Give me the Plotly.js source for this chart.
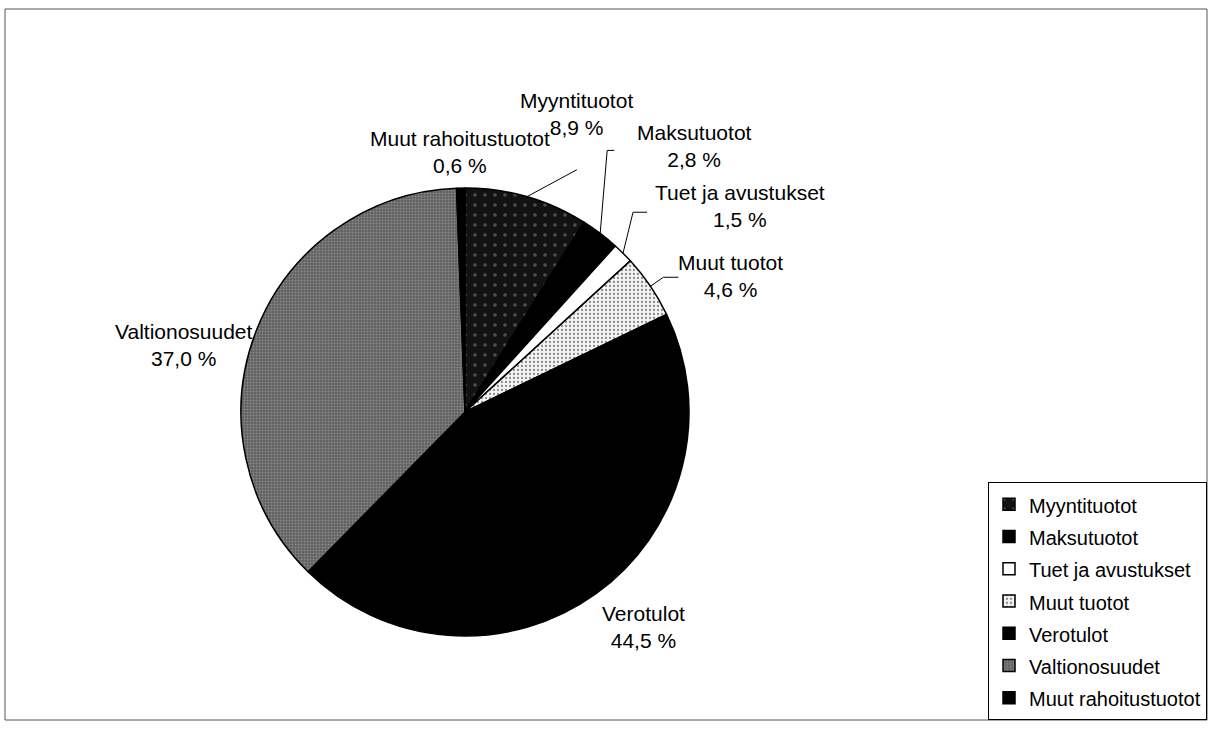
<!DOCTYPE html>
<html>
<head>
<meta charset="utf-8">
<script src="https://cdn.plot.ly/plotly-3.0.1.min.js"></script>
<style>
  html, body { margin: 0; padding: 0; background: #fff; }
  #chart { width: 1211px; height: 743px; }
</style>
</head>
<body>
<div id="chart"></div>
<script>
// ---- data ----
const categories = ['Myyntituotot', 'Maksutuotot', 'Tuet ja avustukset', 'Muut tuotot', 'Verotulot', 'Valtionosuudet', 'Muut rahoitustuotot'];
const shares = [8.9, 2.8, 1.5, 4.6, 44.5, 37.0, 0.6];

// ---- styles ----
const sliceColors = ['#121212', '#000000', '#ffffff', '#f4f4f4', '#000000', '#606060', '#000000'];
const patShape    = ['.', '', '', '.', '', '.', ''];
const patFg       = ['#8c8c8c', '#000', '#000', '#222', '#000', '#b4b4b4', '#000'];
const patSize     = [10, 8, 8, 4, 8, 3, 8];
const patSolid    = [0.1, 0.3, 0.3, 0.25, 0.3, 0.35, 0.3];

// ---- layout geometry (pixels) ----
const W = 1211, H = 743;
const CX = 465, CY = 412, R = 224;
// label centres
const labelPos = [[576, 114], [694, 146], [740, 206], [730, 276], [643, 627], [184, 345], [460, 152]];
// leader line bends, relative to slice edge point
const leaders = [[[50, -27]], [[7, -83], [14, -83]], [[10, -41], [24, -41]], [[13, -9], [28, -9]], null, null, null];

const px = x => x / W;
const py = y => 1 - y / H;
const fmt = v => v.toFixed(1).replace('.', ',') + ' %';
const FONT = 'Liberation Sans, Arial, sans-serif';

const total = shares.reduce((a, b) => a + b, 0);
let cum = 0;
const annotations = [];
const shapes = [];
shares.forEach((v, i) => {
  const mid = (cum + v / 2) / total;
  cum += v;
  const th = 2 * Math.PI * mid;
  const ex = CX + R * Math.sin(th);
  const ey = CY - R * Math.cos(th);
  annotations.push({
    xref: 'paper', yref: 'paper',
    x: px(labelPos[i][0]), y: py(labelPos[i][1]),
    xanchor: 'center', yanchor: 'middle',
    text: categories[i] + '<br>' + fmt(v),
    showarrow: false,
    font: { family: FONT, size: 21, color: '#000' }
  });
  if (leaders[i]) {
    let d = 'M' + ex + ',' + ey;
    leaders[i].forEach(p => { d += ' L' + (ex + p[0]) + ',' + (ey + p[1]); });
    shapes.push({
      type: 'path', xref: 'paper', yref: 'paper', layer: 'above',
      path: d.replace(/(-?[\d.]+),(-?[\d.]+)/g, (m, a, b) => px(+a) + ',' + py(+b)),
      line: { color: '#000', width: 1 }
    });
  }
});

// outer frame
shapes.push({
  type: 'rect', xref: 'paper', yref: 'paper', layer: 'below',
  x0: px(5), x1: px(1207), y0: py(720), y1: py(9),
  line: { color: '#555', width: 1 }
});

const legendLabels = categories.map(c => '<span style="font-size:20px">' + c + '</span>');

const trace = {
  type: 'pie',
  labels: legendLabels,
  values: shares,
  sort: false,
  direction: 'clockwise',
  rotation: 0,
  textinfo: 'none',
  hoverinfo: 'skip',
  domain: { x: [px(CX - R), px(CX + R)], y: [py(CY + R), py(CY - R)] },
  marker: {
    colors: sliceColors,
    line: { color: '#000', width: 1.5 },
    pattern: {
      shape: patShape,
      fgcolor: patFg,
      bgcolor: sliceColors,
      size: patSize,
      solidity: patSolid,
      fillmode: 'overlay'
    }
  }
};

const layout = {
  width: W, height: H,
  margin: { l: 0, r: 0, t: 0, b: 0 },
  paper_bgcolor: '#fff',
  plot_bgcolor: '#fff',
  font: { family: FONT, size: 20, color: '#000' },
  showlegend: true,
  legend: {
    x: px(988), y: py(482), xanchor: 'left', yanchor: 'top',
    bordercolor: '#000', borderwidth: 1, bgcolor: '#fff',
    font: { family: FONT, size: 22.5, color: '#000' },
    traceorder: 'normal'
  },
  annotations: annotations,
  shapes: shapes
};

Plotly.newPlot('chart', [trace], layout, { staticPlot: true, displayModeBar: false });
</script>
</body>
</html>
